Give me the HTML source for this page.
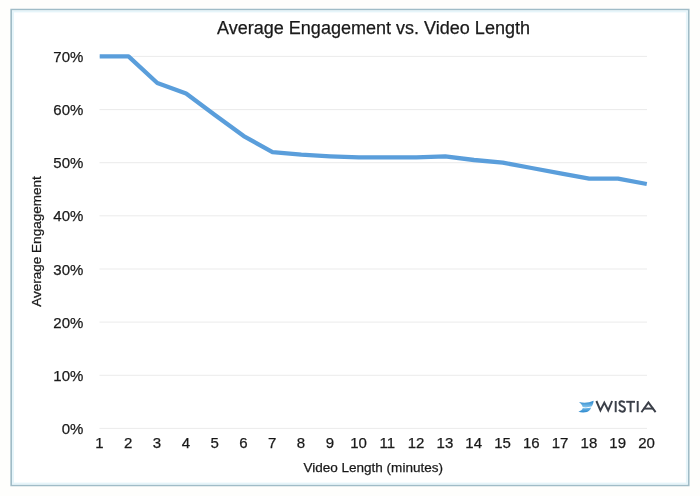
<!DOCTYPE html>
<html><head><meta charset="utf-8">
<style>
html,body{margin:0;padding:0;background:#fefefc;}
body{width:700px;height:496px;overflow:hidden;position:relative;font-family:"Liberation Sans",sans-serif;}
svg{position:absolute;left:0;top:0;display:block}
text{font-family:"Liberation Sans",sans-serif;fill:#1a1a1a;stroke:#1a1a1a;stroke-width:0.25px}
</style></head><body>
<svg width="700" height="496" viewBox="0 0 700 496">
<defs><filter id="b" x="-5%" y="-5%" width="110%" height="110%"><feGaussianBlur stdDeviation="0.45"/></filter></defs>
<rect x="0" y="0" width="700" height="496" fill="#fefefc"/>
<g filter="url(#b)">
<rect x="11.2" y="9.6" width="677.5" height="475.8" fill="#ffffff" stroke="#a0bcc7" stroke-width="1.7"/>
<rect x="13" y="11.4" width="673.9" height="472.2" fill="none" stroke="#e6f5fa" stroke-width="2"/>
<g stroke="#ebebeb" stroke-width="1" id="grid">
<line x1="99.5" x2="647" y1="56.4" y2="56.4"/>
<line x1="99.5" x2="647" y1="109.6" y2="109.6"/>
<line x1="99.5" x2="647" y1="162.7" y2="162.7"/>
<line x1="99.5" x2="647" y1="215.8" y2="215.8"/>
<line x1="99.5" x2="647" y1="269.0" y2="269.0"/>
<line x1="99.5" x2="647" y1="322.1" y2="322.1"/>
<line x1="99.5" x2="647" y1="375.3" y2="375.3"/>
<line x1="99.5" x2="647" y1="428.4" y2="428.4"/>
</g>
<text x="217" y="34" font-size="18" textLength="313" lengthAdjust="spacingAndGlyphs">Average Engagement vs. Video Length</text>
<g font-size="15" text-anchor="end" id="ylab">
<text x="83.4" y="61.9">70%</text>
<text x="83.4" y="115.1">60%</text>
<text x="83.4" y="168.2">50%</text>
<text x="83.4" y="221.3">40%</text>
<text x="83.4" y="274.5">30%</text>
<text x="83.4" y="327.6">20%</text>
<text x="83.4" y="380.8">10%</text>
<text x="83.4" y="433.9">0%</text>
</g>
<g font-size="15" text-anchor="middle" id="xlab">
<text x="99.4" y="447.6">1</text><text x="128.2" y="447.6">2</text><text x="157.0" y="447.6">3</text><text x="185.8" y="447.6">4</text><text x="214.6" y="447.6">5</text><text x="243.4" y="447.6">6</text><text x="272.2" y="447.6">7</text><text x="301.0" y="447.6">8</text><text x="329.8" y="447.6">9</text><text x="358.6" y="447.6">10</text><text x="387.3" y="447.6">11</text><text x="416.1" y="447.6">12</text><text x="444.9" y="447.6">13</text><text x="473.7" y="447.6">14</text><text x="502.5" y="447.6">15</text><text x="531.3" y="447.6">16</text><text x="560.1" y="447.6">17</text><text x="588.9" y="447.6">18</text><text x="617.7" y="447.6">19</text><text x="646.5" y="447.6">20</text>
</g>
<text x="303.4" y="472.2" font-size="13.4" textLength="139.6" lengthAdjust="spacingAndGlyphs">Video Length (minutes)</text>
<text transform="translate(40.8,306.8) rotate(-90)" font-size="13.4" textLength="130.6" lengthAdjust="spacingAndGlyphs">Average Engagement</text>
<polyline id="line" fill="none" stroke="#5a9edb" stroke-width="4.3" stroke-linejoin="round" stroke-linecap="butt"
 points="99.7,56.4 128.5,56.4 157.3,83.0 186.1,93.6 214.9,114.9 243.7,136.1 272.5,152.1 301.3,154.7 330.1,156.3 358.9,157.4 387.6,157.4 416.4,157.4 445.2,156.3 474.0,160.0 502.8,162.7 531.6,168.0 560.4,173.3 589.2,178.6 618.0,178.6 646.8,184.0"/>
<g id="logo">
<defs><linearGradient id="g1" x1="0" y1="0" x2="0" y2="1"><stop offset="0" stop-color="#2583c9"/><stop offset="1" stop-color="#88c7ee"/></linearGradient>
<linearGradient id="g2" x1="0" y1="0" x2="0" y2="1"><stop offset="0" stop-color="#72bbea"/><stop offset="1" stop-color="#2d88cd"/></linearGradient></defs>
<path d="M579,402 C584,403.4 589,402.8 593.6,400.8 C593.4,403.5 592.6,405.6 591.6,406.6 C588,407.6 584.5,407.6 582.6,407 C582.4,405.4 581,403.4 579,402 Z" fill="url(#g1)"/>
<path d="M582.8,408 C585.5,408.4 588.8,408.1 591.2,407.4 C590.6,409.6 589,411.2 587,412 C584,412.7 580.8,412.5 578.4,411.8 C580.6,411 582.4,409.6 582.8,408 Z" fill="url(#g2)"/>
<g fill="none" stroke="#3b3f49" stroke-width="1.95" stroke-linejoin="miter" stroke-miterlimit="10">
<polyline points="596.4,401 600.4,410.4 604.3,402.6 608.2,410.4 612.1,401"/>
<line x1="615.7" x2="615.7" y1="401" y2="412.2"/>
<path d="M624.8,402.6 C623.6,401.6 622.6,401.3 621.8,401.3 C620.3,401.3 619.4,402.4 619.4,403.6 C619.4,406.4 625,406 625,409 C625,410.6 623.8,411.7 622.2,411.7 C621,411.7 619.8,411.1 619,409.8"/>
<line x1="626.2" x2="635" y1="401.8" y2="401.8"/>
<line x1="630.6" x2="630.6" y1="401.8" y2="412.2"/>
<line x1="637.7" x2="637.7" y1="401" y2="412.2"/>
<polyline points="641.4,412.2 648.4,402.4 655.6,412.2"/>
<line x1="643.6" x2="653.4" y1="408.6" y2="408.6"/>
</g>
</g>
</g>
</svg>
</body></html>
